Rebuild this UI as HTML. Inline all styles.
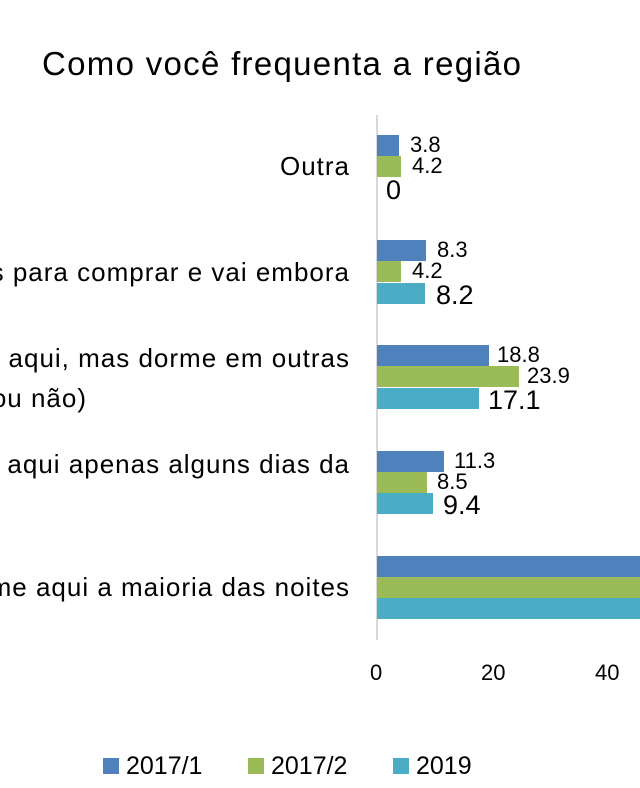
<!DOCTYPE html>
<html><head><meta charset="utf-8"><style>
html,body{margin:0;width:640px;height:788px;overflow:hidden;background:#fff}
#w{position:relative;width:640px;height:788px;overflow:hidden;font-family:"Liberation Sans",sans-serif;color:#000}
.a{position:absolute;white-space:nowrap}
.b{position:absolute;left:377px;height:21px}
.c{position:absolute;right:290px;font-size:26px;letter-spacing:1px;white-space:nowrap;line-height:1}
.s{position:absolute;font-size:22px;line-height:1}
.l{position:absolute;font-size:27px;line-height:1}
</style></head><body><div id="w">
<div class="a" style="left:42px;top:45px;font-size:33px;letter-spacing:1.3px">Como você frequenta a região</div>
<div style="position:absolute;left:376px;top:115px;width:2px;height:525px;background:#d9d9d9"></div>

<div class="c" style="top:153px">Outra</div>
<div class="c" style="top:259px">Vem apenas para comprar e vai embora</div>
<div class="c" style="top:345px">Passa o dia aqui, mas dorme em outras</div>
<div class="a" style="right:553px;top:385px;font-size:26px;letter-spacing:1px;line-height:1">regiões (com ou sem hospedagem, ou não)</div>
<div class="c" style="top:451px">Vem e dorme aqui apenas alguns dias da</div>
<div class="c" style="top:574px">Dorme aqui a maioria das noites</div>

<div class="b" style="top:135px;width:22px;background:#4f81bd"></div>
<div class="b" style="top:156px;width:24px;background:#9bbb59"></div>
<div class="s" style="left:410px;top:134px">3.8</div>
<div class="s" style="left:412px;top:155px">4.2</div>
<div class="l" style="left:386px;top:177px">0</div>

<div class="b" style="top:240px;width:49px;background:#4f81bd"></div>
<div class="b" style="top:261px;width:24px;background:#9bbb59"></div>
<div class="b" style="top:283px;width:48px;background:#4bacc6"></div>
<div class="s" style="left:437px;top:239px">8.3</div>
<div class="s" style="left:412px;top:260px">4.2</div>
<div class="l" style="left:436px;top:282px">8.2</div>

<div class="b" style="top:345px;width:112px;background:#4f81bd"></div>
<div class="b" style="top:366px;width:142px;background:#9bbb59"></div>
<div class="b" style="top:388px;width:102px;background:#4bacc6"></div>
<div class="s" style="left:497px;top:344px">18.8</div>
<div class="s" style="left:527px;top:365px">23.9</div>
<div class="l" style="left:488px;top:387px">17.1</div>

<div class="b" style="top:451px;width:67px;background:#4f81bd"></div>
<div class="b" style="top:472px;width:50px;background:#9bbb59"></div>
<div class="b" style="top:493px;width:56px;background:#4bacc6"></div>
<div class="s" style="left:454px;top:450px">11.3</div>
<div class="s" style="left:437px;top:471px">8.5</div>
<div class="l" style="left:443px;top:492px">9.4</div>

<div class="b" style="top:556px;width:263px;background:#4f81bd"></div>
<div class="b" style="top:577px;width:263px;background:#9bbb59"></div>
<div class="b" style="top:598px;width:263px;background:#4bacc6"></div>

<div class="s" style="left:370px;top:662px">0</div>
<div class="s" style="left:481px;top:662px">20</div>
<div class="s" style="left:595px;top:662px">40</div>

<div style="position:absolute;left:103px;top:758px;width:16px;height:16px;background:#4f81bd"></div>
<div class="a" style="left:126px;top:752px;font-size:25px">2017/1</div>
<div style="position:absolute;left:248px;top:758px;width:16px;height:16px;background:#9bbb59"></div>
<div class="a" style="left:271px;top:752px;font-size:25px">2017/2</div>
<div style="position:absolute;left:393px;top:758px;width:16px;height:16px;background:#4bacc6"></div>
<div class="a" style="left:416px;top:752px;font-size:25px">2019</div>
</div></body></html>
